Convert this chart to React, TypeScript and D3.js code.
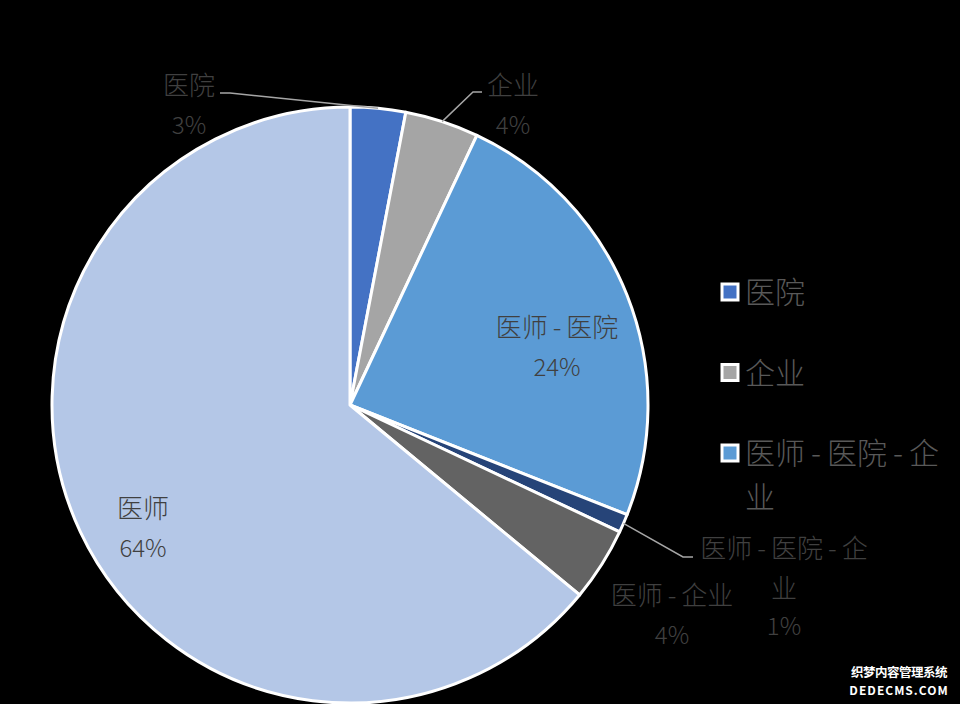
import React from "react";
import * as d3 from "d3";

const categories = ["医院", "企业", "医师-医院", "医师-医院-企业", "医师-企业", "医师"];
const values = [3, 4, 24, 1, 4, 64];
const percentLabels = ["3%", "4%", "24%", "1%", "4%", "64%"];
const colors = ["#4472C4", "#A5A5A5", "#5B9BD5", "#264478", "#636363", "#B4C7E7"];
const legendItems = ["医院", "企业", "医师-医院-企业"];
const legendColors = ["#4472C4", "#A5A5A5", "#5B9BD5"];

const W = 960;
const H = 704;
const CX = 350;
const CY = 405;
const R = 298;
const FONT = "'Noto Sans CJK SC', 'Noto Sans', sans-serif";

// label layout (annotation positions): wrapped name lines, centre x, first line y, optional leader elbow
const labelLayout = [
  { lines: ["医院"], x: 189, y: 83, leader: [[230, 93], [220, 93]] },
  { lines: ["企业"], x: 513, y: 83, leader: [[473, 92], [482, 92]] },
  { lines: ["医师-医院"], x: 557, y: 325, leader: null },
  { lines: ["医师-医院-企", "业"], x: 784, y: 546, leader: [[683, 557], [693, 557]] },
  { lines: ["医师-企业"], x: 672, y: 593, leader: null },
  { lines: ["医师"], x: 143, y: 506, leader: null },
];

function Spaced({ text, gap }: { text: string; gap: number }) {
  const parts = text.split("-");
  const out: React.ReactNode[] = [];
  parts.forEach((p, i) => {
    if (i > 0) {
      out.push(
        <tspan key={`h${i}`} dx={gap}>
          -
        </tspan>
      );
    }
    out.push(
      <tspan key={`p${i}`} dx={i > 0 ? gap : 0}>
        {p}
      </tspan>
    );
  });
  return <>{out}</>;
}

export default function App() {
  React.useEffect(() => {
    document.body.style.margin = "0";
    document.body.style.background = "#000";
  }, []);

  const pie = d3.pie<number>().sort(null).value((d) => d);
  const arcs = pie(values);
  const arcGen = d3.arc<d3.PieArcDatum<number>>().innerRadius(0).outerRadius(R);

  return (
    <svg width={W} height={H} style={{ display: "block", background: "#000" }}>
      <rect x={0} y={0} width={W} height={H} fill="#000" />
      <g transform={`translate(${CX},${CY})`}>
        {arcs.map((a, i) => (
          <path key={categories[i]} d={arcGen(a) || ""} fill={colors[i]} stroke="#fff" strokeWidth={3} strokeLinejoin="round" />
        ))}
      </g>
      {labelLayout.map((l, i) => {
        const a = arcs[i];
        const mid = (a.startAngle + a.endAngle) / 2;
        const sx = CX + Math.sin(mid) * R;
        const sy = CY - Math.cos(mid) * R;
        const pts = l.leader ? [[sx, sy], ...l.leader] : null;
        const allLines = [...l.lines, percentLabels[i]];
        const offs = allLines.length === 3 ? [0, 40, 78] : [0, 40];
        return (
          <g key={i}>
            {pts && (
              <polyline
                points={pts.map((p) => p.join(",")).join(" ")}
                fill="none"
                stroke="#A6A6A6"
                strokeWidth={1.5}
              />
            )}
            {allLines.map((t, j) => (
              <text
                key={j}
                x={l.x}
                y={l.y + offs[j]}
                textAnchor="middle"
                dominantBaseline="central"
                fontFamily={FONT}
                fontWeight={300}
                fontSize={j === allLines.length - 1 ? 24 : 26}
                fill="#404040"
              >
                <Spaced text={t} gap={5} />
              </text>
            ))}
          </g>
        );
      })}
      {legendItems.map((name, i) => {
        const y = 292 + i * 80.5;
        const lines = name.length > 4 ? [name.slice(0, 7), name.slice(7)] : [name];
        return (
          <g key={name}>
            <rect x={722} y={y - 8} width={16} height={16} fill={legendColors[i]} stroke="#fff" strokeWidth={3} />
            {lines.map((ln, j) => (
              <text
                key={j}
                x={745}
                y={y - 2 + j * 44}
                dominantBaseline="central"
                fontFamily={FONT}
                fontWeight={300}
                fontSize={30}
                fill="#595959"
              >
                <Spaced text={ln} gap={6} />
              </text>
            ))}
          </g>
        );
      })}
      <g fontFamily={FONT} fontWeight={700} fill="#fff" stroke="#000" strokeWidth={2.5} paintOrder="stroke" textAnchor="middle">
        <text x={899} y={677} fontSize={12.5} letterSpacing={-0.5}>织梦内容管理系统</text>
        <text x={899} y={695} fontSize={12} letterSpacing={1}>DEDECMS.COM</text>
      </g>
    </svg>
  );
}
